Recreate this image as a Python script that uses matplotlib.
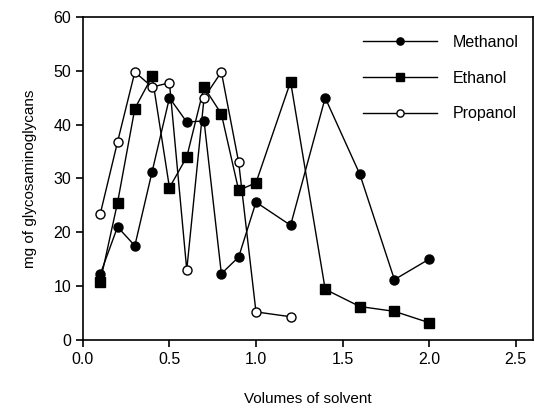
import matplotlib
matplotlib.use("Agg")
import matplotlib.pyplot as plt

plt.rcParams["font.family"] = ["Liberation Sans", "DejaVu Sans"]

# ── data ─────────────────────────────────────────────────────
x_meth = [0.1, 0.2, 0.3, 0.4, 0.5, 0.6, 0.7, 0.8, 0.9, 1.0, 1.2, 1.4, 1.6, 1.8, 2.0]
y_meth = [12.2, 21.0, 17.5, 31.3, 45.0, 40.5, 40.7, 12.3, 15.4, 25.6, 21.3, 45.0, 30.8, 11.2, 15.0]

x_eth = [0.1, 0.2, 0.3, 0.4, 0.5, 0.6, 0.7, 0.8, 0.9, 1.0, 1.2, 1.4, 1.6, 1.8, 2.0]
y_eth = [10.8, 25.5, 43.0, 49.0, 28.3, 34.0, 47.0, 42.0, 27.8, 29.2, 48.0, 9.4, 6.2, 5.3, 3.2]

x_prop = [0.1, 0.2, 0.3, 0.4, 0.5, 0.6, 0.7, 0.8, 0.9, 1.0, 1.2]
y_prop = [23.4, 36.8, 49.8, 47.0, 47.8, 13.0, 45.0, 49.8, 33.0, 5.2, 4.3]

x_ticks = [0.0, 0.5, 1.0, 1.5, 2.0, 2.5]
y_ticks = [0, 10, 20, 30, 40, 50, 60]

fig = plt.figure(figsize=(5.35, 4.08), dpi=100)
ax = fig.add_axes([0.155, 0.167, 0.841, 0.791])

ax.plot(x_meth, y_meth, "-o", color="black", lw=1.0, ms=6.5,
        mfc="black", label="Methanol")
ax.plot(x_eth, y_eth, "-s", color="black", lw=1.0, ms=6.5,
        mfc="black", label="Ethanol")
ax.plot(x_prop, y_prop, "-o", color="black", lw=1.0, ms=6.5,
        mfc="white", label="Propanol")

ax.set_xlim(0, 2.6)
ax.set_ylim(0, 60)
ax.set_xticks(x_ticks)
ax.set_xticklabels([f"{v:.1f}" for v in x_ticks])
ax.set_yticks(y_ticks)
ax.tick_params(direction="out", length=5, width=1.2, labelsize=11.5, colors="black")

for spine in ax.spines.values():
    spine.set_linewidth(1.2)

ax.set_xlabel("Volumes of solvent", fontsize=11, labelpad=18)
ax.set_ylabel("mg of glycosaminoglycans", fontsize=11, labelpad=12)

leg = ax.legend(loc="upper right", frameon=False, fontsize=11.5,
                numpoints=1, handlelength=4.6, labelspacing=1.3,
                handletextpad=1.0, markerscale=0.8,
                bbox_to_anchor=(1.0, 0.99))

fig.savefig("out.png", dpi=100)
